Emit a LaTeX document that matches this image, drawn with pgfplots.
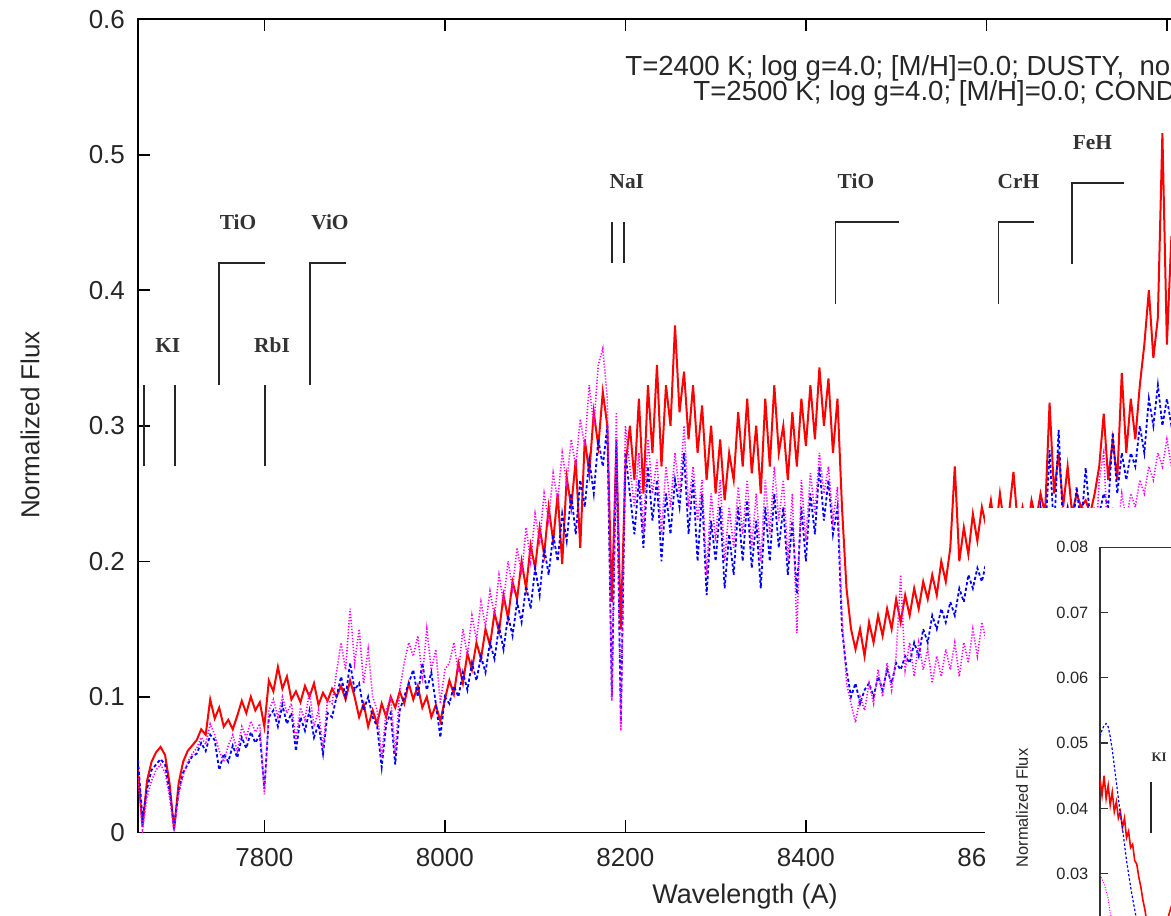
\documentclass[border=0pt]{standalone}
\usepackage{pgfplots}
\pgfplotsset{compat=1.18}
\usepackage{pgfplotstable}
\usepackage{fontspec}
\setmainfont{Liberation Sans}
\newfontfamily\annfont{Liberation Serif}

\definecolor{specred}{RGB}{255,0,0}
\definecolor{specblue}{RGB}{0,0,255}
\definecolor{specmag}{RGB}{255,0,255}

% wavelength, observed (red), model 1 (blue), model 2 (magenta)
\pgfplotstableread{
x r b m
7660 0.046 0.053 0.040
7665 0.004 0.010 0.002
7670 0.038 0.032 0.026
7675 0.052 0.046 0.038
7680 0.059 0.050 0.046
7685 0.063 0.054 0.050
7690 0.057 0.050 0.044
7695 0.036 0.030 0.026
7700 0.002 0.004 0.001
7705 0.036 0.030 0.028
7710 0.052 0.044 0.042
7715 0.060 0.050 0.052
7720 0.064 0.056 0.058
7725 0.068 0.058 0.062
7730 0.076 0.066 0.070
7735 0.072 0.060 0.065
7740 0.098 0.072 0.080
7745 0.084 0.068 0.072
7750 0.092 0.046 0.060
7755 0.078 0.058 0.052
7760 0.083 0.052 0.064
7765 0.076 0.064 0.072
7770 0.086 0.055 0.060
7775 0.097 0.070 0.078
7780 0.088 0.062 0.070
7785 0.100 0.074 0.082
7790 0.090 0.066 0.074
7795 0.096 0.072 0.080
7800 0.078 0.032 0.028
7805 0.112 0.085 0.090
7810 0.104 0.090 0.098
7815 0.122 0.078 0.085
7820 0.106 0.094 0.100
7825 0.115 0.080 0.088
7830 0.098 0.088 0.095
7835 0.104 0.060 0.068
7840 0.096 0.085 0.092
7845 0.108 0.075 0.083
7850 0.100 0.090 0.104
7855 0.110 0.070 0.078
7860 0.094 0.080 0.090
7865 0.103 0.058 0.062
7870 0.097 0.088 0.098
7875 0.106 0.085 0.095
7880 0.100 0.100 0.118
7885 0.108 0.115 0.140
7890 0.098 0.100 0.120
7895 0.112 0.125 0.165
7900 0.100 0.105 0.125
7905 0.085 0.110 0.150
7910 0.095 0.090 0.110
7915 0.078 0.100 0.135
7920 0.090 0.085 0.100
7925 0.080 0.078 0.090
7930 0.095 0.048 0.055
7935 0.085 0.080 0.090
7940 0.100 0.088 0.100
7945 0.092 0.050 0.058
7950 0.104 0.090 0.105
7955 0.095 0.100 0.125
7960 0.110 0.110 0.140
7965 0.098 0.120 0.130
7970 0.108 0.100 0.145
7975 0.092 0.125 0.115
7980 0.100 0.105 0.150
7985 0.085 0.118 0.120
7990 0.094 0.095 0.135
7995 0.082 0.070 0.095
8000 0.098 0.100 0.120
8005 0.112 0.095 0.125
8010 0.102 0.108 0.140
8015 0.125 0.100 0.118
8020 0.110 0.118 0.150
8025 0.132 0.105 0.130
8030 0.120 0.125 0.160
8035 0.140 0.112 0.142
8040 0.128 0.130 0.170
8045 0.150 0.118 0.152
8050 0.138 0.140 0.178
8055 0.162 0.128 0.160
8060 0.148 0.152 0.190
8065 0.175 0.135 0.170
8070 0.158 0.160 0.200
8075 0.185 0.145 0.180
8080 0.172 0.170 0.210
8085 0.200 0.155 0.190
8090 0.180 0.182 0.225
8095 0.212 0.165 0.200
8100 0.195 0.195 0.235
8105 0.225 0.175 0.215
8110 0.205 0.210 0.250
8115 0.240 0.190 0.230
8120 0.215 0.220 0.265
8125 0.250 0.200 0.245
8130 0.198 0.235 0.280
8135 0.262 0.215 0.258
8140 0.240 0.250 0.290
8145 0.275 0.220 0.270
8150 0.210 0.260 0.305
8155 0.290 0.240 0.285
8160 0.265 0.275 0.330
8165 0.310 0.250 0.300
8170 0.285 0.290 0.345
8175 0.325 0.270 0.357
8180 0.300 0.300 0.320
8185 0.170 0.100 0.097
8190 0.285 0.290 0.310
8195 0.150 0.080 0.075
8200 0.270 0.280 0.300
8205 0.300 0.250 0.270
8210 0.260 0.220 0.240
8215 0.320 0.260 0.280
8220 0.250 0.210 0.220
8225 0.330 0.270 0.290
8230 0.280 0.230 0.250
8235 0.345 0.260 0.275
8240 0.270 0.200 0.220
8245 0.330 0.250 0.270
8250 0.300 0.220 0.240
8255 0.374 0.260 0.280
8260 0.310 0.240 0.250
8265 0.340 0.280 0.300
8270 0.290 0.220 0.240
8275 0.330 0.260 0.270
8280 0.280 0.200 0.230
8285 0.315 0.250 0.260
8290 0.260 0.175 0.190
8295 0.300 0.230 0.250
8300 0.250 0.200 0.215
8305 0.290 0.240 0.260
8310 0.245 0.180 0.200
8315 0.280 0.220 0.240
8320 0.260 0.190 0.210
8325 0.310 0.240 0.255
8330 0.270 0.200 0.220
8335 0.320 0.245 0.260
8340 0.265 0.195 0.210
8345 0.300 0.230 0.250
8350 0.250 0.180 0.200
8355 0.320 0.240 0.260
8360 0.270 0.200 0.220
8365 0.330 0.250 0.270
8370 0.280 0.210 0.230
8375 0.300 0.240 0.260
8380 0.260 0.190 0.200
8385 0.310 0.230 0.250
8390 0.270 0.176 0.147
8395 0.320 0.240 0.260
8400 0.285 0.200 0.215
8405 0.330 0.250 0.265
8410 0.290 0.220 0.235
8415 0.343 0.270 0.280
8420 0.300 0.230 0.250
8425 0.335 0.260 0.270
8430 0.280 0.220 0.230
8435 0.320 0.240 0.255
8440 0.240 0.150 0.160
8445 0.180 0.120 0.110
8450 0.150 0.100 0.095
8455 0.135 0.110 0.081
8460 0.150 0.095 0.100
8465 0.130 0.105 0.090
8470 0.155 0.110 0.110
8475 0.140 0.100 0.095
8480 0.160 0.115 0.120
8485 0.145 0.105 0.100
8490 0.165 0.120 0.125
8495 0.150 0.110 0.105
8500 0.172 0.125 0.130
8505 0.155 0.120 0.190
8510 0.175 0.130 0.120
8515 0.160 0.125 0.140
8520 0.180 0.140 0.115
8525 0.165 0.130 0.140
8530 0.185 0.150 0.120
8535 0.172 0.140 0.135
8540 0.190 0.160 0.110
8545 0.175 0.150 0.130
8550 0.200 0.165 0.115
8555 0.185 0.155 0.135
8560 0.210 0.170 0.120
8565 0.270 0.160 0.140
8570 0.200 0.180 0.115
8575 0.225 0.170 0.140
8580 0.205 0.190 0.125
8585 0.235 0.180 0.150
8590 0.215 0.195 0.130
8595 0.240 0.185 0.155
8600 0.225 0.200 0.140
8605 0.245 0.200 0.150
8610 0.220 0.210 0.160
8615 0.250 0.195 0.145
8620 0.225 0.210 0.165
8625 0.235 0.200 0.150
8630 0.266 0.215 0.170
8635 0.225 0.200 0.155
8640 0.240 0.210 0.170
8645 0.220 0.200 0.160
8650 0.245 0.215 0.175
8655 0.230 0.205 0.160
8660 0.250 0.240 0.180
8665 0.235 0.215 0.170
8670 0.317 0.282 0.190
8675 0.250 0.220 0.175
8680 0.280 0.297 0.200
8685 0.240 0.225 0.180
8690 0.270 0.240 0.190
8695 0.235 0.220 0.175
8700 0.250 0.255 0.200
8705 0.240 0.225 0.185
8710 0.245 0.269 0.200
8715 0.235 0.230 0.190
8720 0.250 0.240 0.200
8725 0.270 0.235 0.260
8730 0.309 0.250 0.280
8735 0.260 0.240 0.210
8740 0.290 0.295 0.240
8745 0.260 0.250 0.220
8750 0.339 0.280 0.250
8755 0.280 0.260 0.230
8760 0.320 0.280 0.250
8765 0.290 0.270 0.240
8770 0.330 0.300 0.260
8775 0.360 0.280 0.250
8780 0.400 0.320 0.270
8785 0.350 0.300 0.260
8790 0.380 0.330 0.280
8795 0.516 0.300 0.270
8800 0.360 0.320 0.290
8805 0.440 0.300 0.270
8810 0.340 0.310 0.280
}\spec

\pgfplotstableread{
x y
7640 0.0445
7641 0.0420
7642 0.0450
7643 0.0415
7644 0.0435
7645 0.0405
7646 0.0425
7647 0.0395
7648 0.0410
7649 0.0385
7650 0.0395
7651 0.0370
7652 0.0385
7653 0.0355
7654 0.0365
7655 0.0340
7656 0.0345
7657 0.0320
7658 0.0315
7659 0.0295
7660 0.0280
7661 0.0260
7662 0.0245
7663 0.0225
7664 0.0205
7665 0.0190
7666 0.0180
7668 0.0175
7670 0.0190
7672 0.0215
7674 0.0240
7676 0.0260
7678 0.0275
7680 0.0285
}\insred

\pgfplotstableread{
x y
7640 0.0510
7641 0.0520
7642 0.0527
7643 0.0530
7644 0.0525
7645 0.0510
7646 0.0490
7647 0.0465
7648 0.0440
7649 0.0415
7650 0.0390
7651 0.0370
7652 0.0345
7653 0.0320
7654 0.0300
7655 0.0280
7656 0.0262
7657 0.0245
7658 0.0228
7660 0.0200
7663 0.0160
7666 0.0130
7670 0.0120
7675 0.0150
7680 0.0200
}\insblue

\pgfplotstableread{
x y
7640 0.0298
7642 0.0285
7644 0.0262
7645 0.0240
7648 0.0200
7650 0.0180
7655 0.0150
7660 0.0110
7665 0.0090
7670 0.0100
7680 0.0150
}\insmag

\begin{document}
\begin{tikzpicture}
\useasboundingbox (0pt,0pt) rectangle (585.5pt,457.5pt);
\clip (0pt,0pt) rectangle (585.5pt,457.5pt);

\begin{axis}[
  at={(69pt,41.35pt)}, anchor=south west,
  scale only axis, width=604.7pt, height=406.5pt,
  xmin=7660, xmax=9000, ymin=0, ymax=0.6,
  xtick={7800,8000,8200,8400,8600,8800,9000},
  ytick={0,0.1,0.2,0.3,0.4,0.5,0.6},
  minor tick num=0,
  major tick length=6pt,
  axis line style={line width=0.8pt},
  every tick/.style={black, line width=0.8pt},
  /pgf/number format/1000 sep={},
  /pgf/number format/assume math mode=true,
  tick label style={font=\fontsize{13}{15}\selectfont, text=black!85},
  yticklabel style={xshift=-3pt},
  xticklabel style={yshift=-4.5pt},
]
  \addplot[specred, line width=1pt] table[x=x, y=r] {\spec};
  \addplot[specblue, line width=0.9pt, dash pattern=on 1.6pt off 1.2pt] table[x=x, y=b] {\spec};
  \addplot[specmag, line width=0.8pt, dash pattern=on 0.6pt off 0.9pt] table[x=x, y=m] {\spec};

  % line identifications
  \draw[black!85, line width=0.8pt] (axis cs:7666.6,0.27) -- (axis cs:7666.6,0.33);
  \draw[black!85, line width=0.8pt] (axis cs:7701,0.27) -- (axis cs:7701,0.33);
  \draw[black!85, line width=0.8pt] (axis cs:7800.7,0.27) -- (axis cs:7800.7,0.33);
  \draw[black!85, line width=0.8pt] (axis cs:7749.7,0.33) -- (axis cs:7749.7,0.4202) -- (axis cs:7800.7,0.4202);
  \draw[black!85, line width=0.8pt] (axis cs:7850.6,0.33) -- (axis cs:7850.6,0.4202) -- (axis cs:7890.5,0.4202);
  \draw[black!85, line width=0.8pt] (axis cs:8185,0.42) -- (axis cs:8185,0.4506);
  \draw[black!85, line width=0.8pt] (axis cs:8198.8,0.42) -- (axis cs:8198.8,0.4506);
  \draw[black!85, line width=0.8pt] (axis cs:8433,0.39) -- (axis cs:8433,0.4506) -- (axis cs:8503.5,0.4506);
  \draw[black!85, line width=0.8pt] (axis cs:8613.2,0.39) -- (axis cs:8613.2,0.4506) -- (axis cs:8652.7,0.4506);
  \draw[black!85, line width=0.8pt] (axis cs:8694.9,0.4194) -- (axis cs:8694.9,0.4794) -- (axis cs:8752.8,0.4794);

  \node[font=\annfont\bfseries\fontsize{10.7}{12}\selectfont, text=black!80] at (axis cs:7693,0.3596) {KI};
  \node[font=\annfont\bfseries\fontsize{10.7}{12}\selectfont, text=black!80] at (axis cs:7770.8,0.4504) {TiO};
  \node[font=\annfont\bfseries\fontsize{10.7}{12}\selectfont, text=black!80] at (axis cs:7808.5,0.3596) {RbI};
  \node[font=\annfont\bfseries\fontsize{10.7}{12}\selectfont, text=black!80] at (axis cs:7872.7,0.4504) {ViO};
  \node[font=\annfont\bfseries\fontsize{10.7}{12}\selectfont, text=black!80] at (axis cs:8201.6,0.4802) {NaI};
  \node[font=\annfont\bfseries\fontsize{10.7}{12}\selectfont, text=black!80] at (axis cs:8455.5,0.4802) {TiO};
  \node[font=\annfont\bfseries\fontsize{10.7}{12}\selectfont, text=black!80] at (axis cs:8635.5,0.4802) {CrH};
  \node[font=\annfont\bfseries\fontsize{10.7}{12}\selectfont, text=black!80] at (axis cs:8717.4,0.509) {FeH};

  \node[anchor=base west, inner sep=0pt, font=\fontsize{13.8}{15}\selectfont, text=black!85]
    at (axis cs:8199.6,0.5585) {T=2400 K; log g=4.0; [M/H]=0.0; DUSTY,\ \ no dust};
  \node[anchor=base west, inner sep=0pt, font=\fontsize{13.8}{15}\selectfont, text=black!85]
    at (axis cs:8275,0.5400) {T=2500 K; log g=4.0; [M/H]=0.0; COND};
\end{axis}

\node[rotate=90, font=\fontsize{13}{15}\selectfont, text=black!85] at (15pt,245pt) {Normalized Flux};
\node[anchor=base, font=\fontsize{13.5}{15}\selectfont, text=black!85] at (372.5pt,6pt) {Wavelength (A)};

% inset
\fill[white] (492.5pt,-10pt) rectangle (600pt,203.5pt);
\begin{axis}[
  at={(550pt,183.9pt)}, anchor=north west,
  scale only axis, width=122.4pt, height=261.2pt,
  xmin=7640, xmax=7760, ymin=0, ymax=0.08,
  xtick={7680,7720}, xticklabels={},
  ytick={0,0.01,0.02,0.03,0.04,0.05,0.06,0.07,0.08},
  scaled y ticks=false,
  major tick length=4pt,
  axis line style={black!80, line width=0.6pt},
  every tick/.style={black!80, line width=0.6pt},
  /pgf/number format/assume math mode=true,
  yticklabel style={font=\fontsize{8.2}{10}\selectfont, text=black!85, xshift=-2.3pt,
    /pgf/number format/fixed, /pgf/number format/precision=2,
    /pgf/number format/fixed zerofill},
]
  \addplot[specred, line width=0.8pt] table {\insred};
  \addplot[specblue, line width=0.6pt, dash pattern=on 1.2pt off 1pt] table {\insblue};
  \addplot[specmag, line width=0.5pt, dash pattern=on 0.5pt off 0.8pt] table {\insmag};
  \draw[black!85, line width=0.6pt] (axis cs:7665,0.0362) -- (axis cs:7665,0.044);
  \node[font=\annfont\bfseries\fontsize{6.5}{8}\selectfont, text=black!80] at (axis cs:7669,0.0479) {KI};
\end{axis}
\node[rotate=90, font=\fontsize{8.2}{10}\selectfont, text=black!85] at (511pt,53.5pt) {Normalized Flux};
\end{tikzpicture}
\end{document}
